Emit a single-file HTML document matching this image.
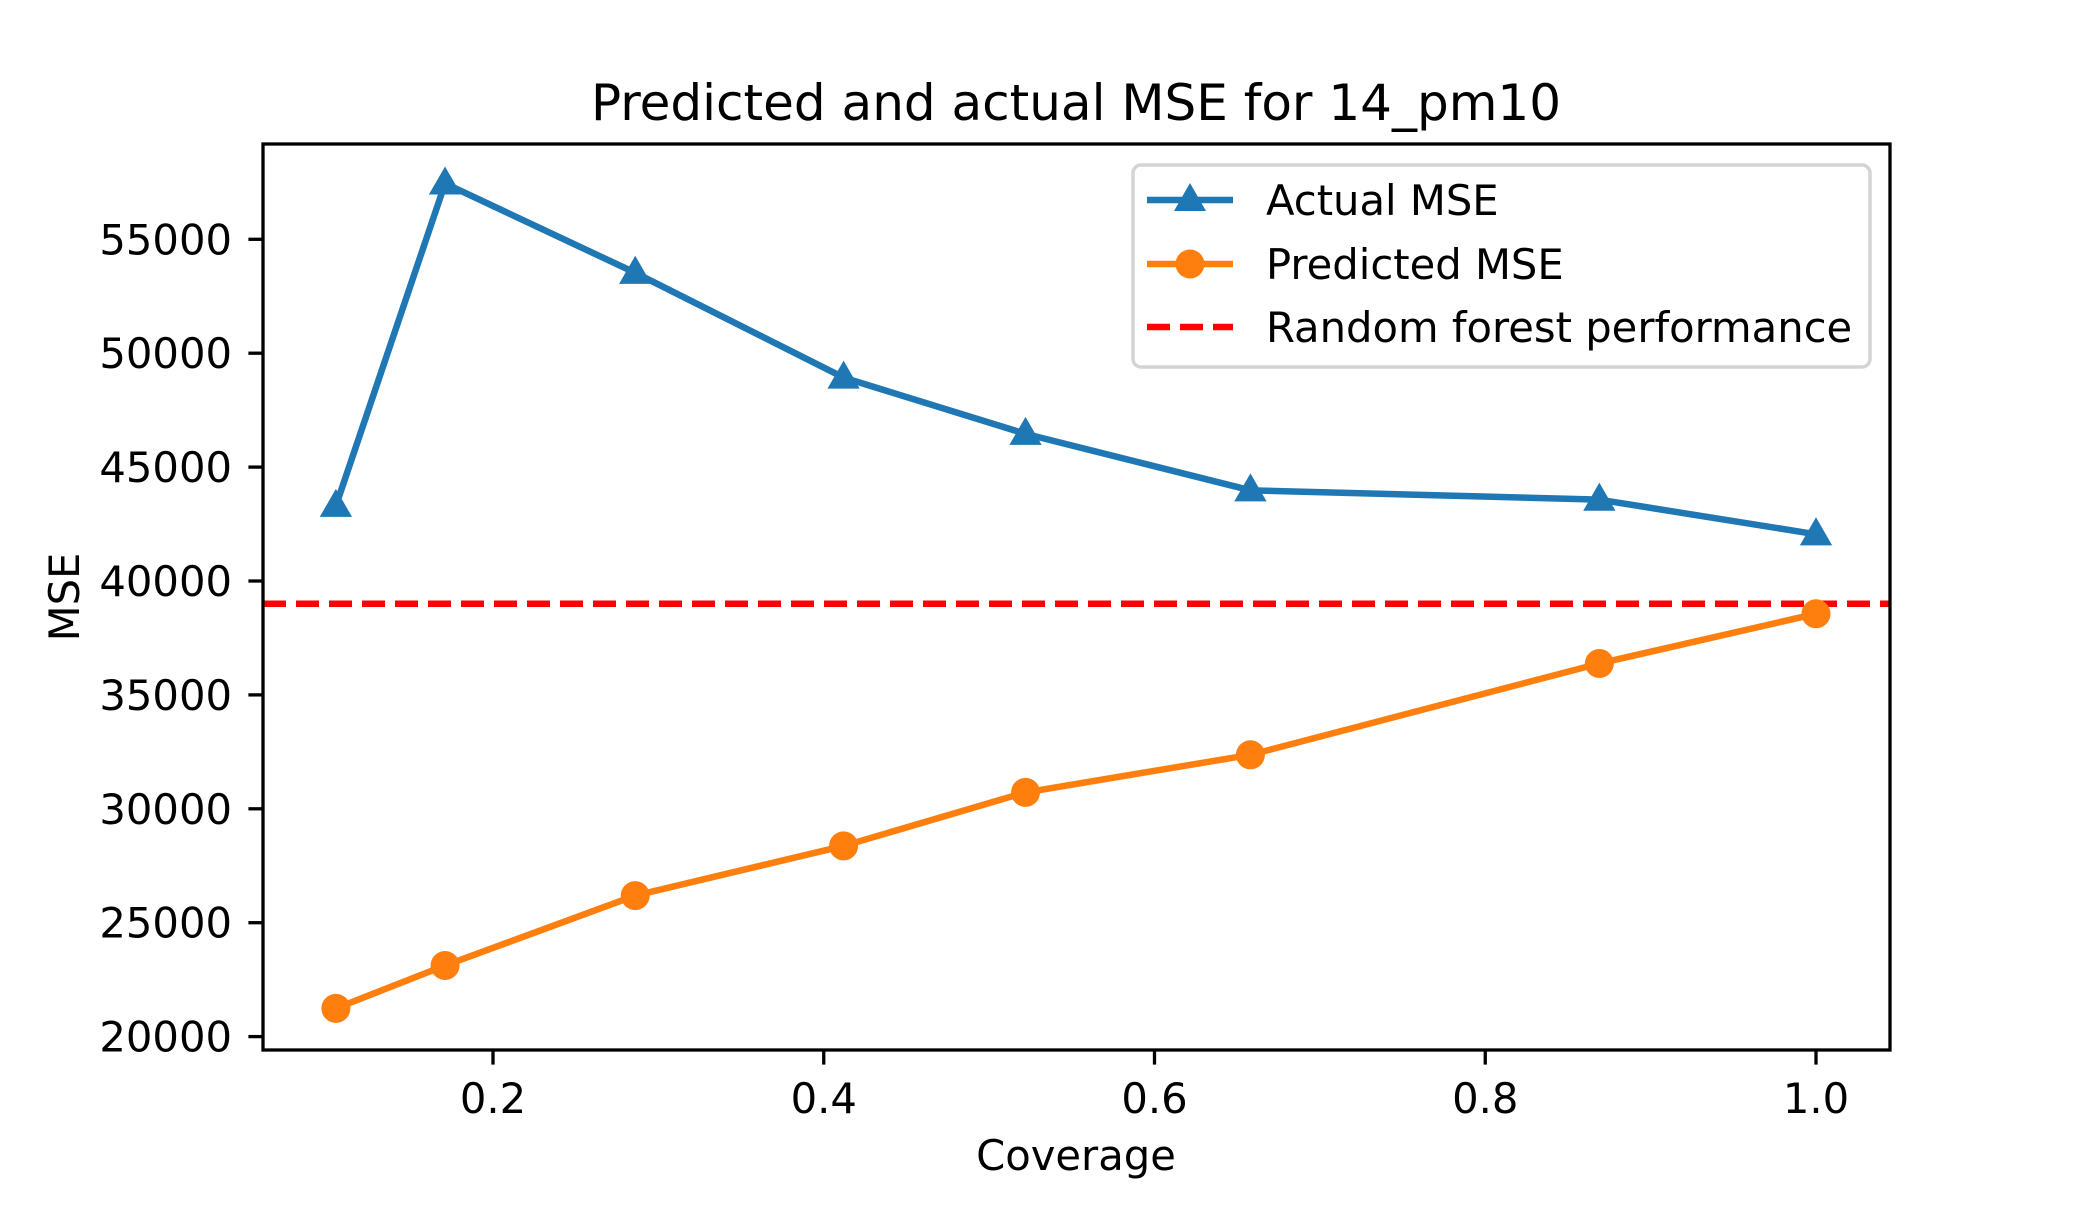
<!DOCTYPE html>
<html><head><meta charset="utf-8"><style>
html,body{margin:0;padding:0;background:#fff;}
svg text{font-family:"DejaVu Sans","Liberation Sans",sans-serif;fill:#000;}
</style></head><body>
<svg id="chart" width="2100" height="1200" viewBox="0 0 2100 1200" xmlns="http://www.w3.org/2000/svg">
<rect width="2100" height="1200" fill="#fff"/>
<g id="plot"></g>
</svg>
<script>
const coverage = [0.105, 0.171, 0.286, 0.412, 0.522, 0.658, 0.869, 1.0];
const actualMSE = [43300, 57450, 53530, 48930, 46460, 43980, 43570, 42050];
const predictedMSE = [21240, 23120, 26190, 28370, 30720, 32370, 36380, 38560];
const rfPerformance = 39000;
const xTicks = [0.2, 0.4, 0.6, 0.8, 1.0];
const xTickLabels = ["0.2", "0.4", "0.6", "0.8", "1.0"];
const yTicks = [20000, 25000, 30000, 35000, 40000, 45000, 50000, 55000];
const yTickLabels = ["20000", "25000", "30000", "35000", "40000", "45000", "50000", "55000"];

const L = 263, R = 1890, T = 144, B = 1050;
function sx(v){ return 493 + (v - 0.2) / 0.8 * (1816 - 493); }
function sy(v){ return 1036.6 - (v - 20000) / 5000 * 113.9; }
const NS = "http://www.w3.org/2000/svg";
const g = document.getElementById('plot');
function mk(tag, attrs, parent){
  const e = document.createElementNS(NS, tag);
  for (const k in attrs) e.setAttribute(k, attrs[k]);
  (parent || g).appendChild(e);
  return e;
}

const rf = mk('line', {x1:L, x2:R, y1:sy(rfPerformance), y2:sy(rfPerformance), stroke:'#ff0000', 'stroke-width':6.5, 'stroke-dasharray':'23 10'});



const ap = mk('polyline', {points: coverage.map((c,i)=>sx(c)+','+sy(actualMSE[i])).join(' '), fill:'none', stroke:'#1f77b4', 'stroke-width':6.5, 'stroke-linejoin':'round'});


coverage.forEach((c,i)=>{
  const x = sx(c), y = sy(actualMSE[i]), r = 17;
  const m = mk('polygon', {points: `${x},${y-r} ${x+r*0.95},${y+r*0.65} ${x-r*0.95},${y+r*0.65}`, fill:'#1f77b4'});
  
  
});
const pp = mk('polyline', {points: coverage.map((c,i)=>sx(c)+','+sy(predictedMSE[i])).join(' '), fill:'none', stroke:'#ff7f0e', 'stroke-width':6.5, 'stroke-linejoin':'round'});


coverage.forEach((c,i)=>{
  const m = mk('circle', {cx:sx(c), cy:sy(predictedMSE[i]), r:14.5, fill:'#ff7f0e'});
  
  
});

const fr = mk('rect', {x:L, y:T, width:R-L, height:B-T, fill:'none', stroke:'#000', 'stroke-width':3.3});



xTicks.forEach((v,i)=>{
  const t = mk('line', {x1:sx(v), x2:sx(v), y1:B, y2:B+14.6, stroke:'#000', 'stroke-width':3.3});
  
  
  const tx = mk('text', {x:sx(v), y:1113, 'font-size':41.7, 'text-anchor':'middle'});
  tx.textContent = xTickLabels[i];
  
  
});
yTicks.forEach((v,i)=>{
  const t = mk('line', {x1:L-14.6, x2:L, y1:sy(v), y2:sy(v), stroke:'#000', 'stroke-width':3.3});
  
  
  const tx = mk('text', {x:232, y:sy(v)+15, 'font-size':41.7, 'text-anchor':'end'});
  tx.textContent = yTickLabels[i];
  
  
});

const title = mk('text', {x:1076, y:120, 'font-size':50, 'text-anchor':'middle'});
title.textContent = 'Predicted and actual MSE for 14_pm10';


const xl = mk('text', {x:1076, y:1170, 'font-size':41.7, 'text-anchor':'middle'});
xl.textContent = 'Coverage';


const yl = mk('text', {x:0, y:0, 'font-size':41.7, 'text-anchor':'middle', transform:'translate(79,597) rotate(-90)'});
yl.textContent = 'MSE';



const lg = mk('g', {});


const lb = mk('rect', {x:1133, y:165, width:737, height:202, rx:8, fill:'#fff', 'fill-opacity':0.8, stroke:'#d4d4d4', 'stroke-width':3.5}, lg);


const entries = [
  {label:'Actual MSE', color:'#1f77b4', marker:'tri', y:200},
  {label:'Predicted MSE', color:'#ff7f0e', marker:'circ', y:264},
  {label:'Random forest performance', color:'#ff0000', marker:'dash', y:327}
];
entries.forEach(e=>{
  const eg = mk('g', {}, lg);
  
  
  mk('line', {x1:1147, x2:1233, y1:e.y, y2:e.y, stroke:e.color, 'stroke-width':6.5, 'stroke-dasharray': e.marker==='dash' ? '23 10' : 'none'}, eg);
  if (e.marker==='tri') mk('polygon', {points:`1190,${e.y-17} 1206,${e.y+11} 1174,${e.y+11}`, fill:e.color}, eg);
  if (e.marker==='circ') mk('circle', {cx:1190, cy:e.y, r:14.5, fill:e.color}, eg);
  const t = mk('text', {x:1266, y:e.y+15, 'font-size':41.7}, eg);
  t.textContent = e.label;
});
</script>
</body></html>
